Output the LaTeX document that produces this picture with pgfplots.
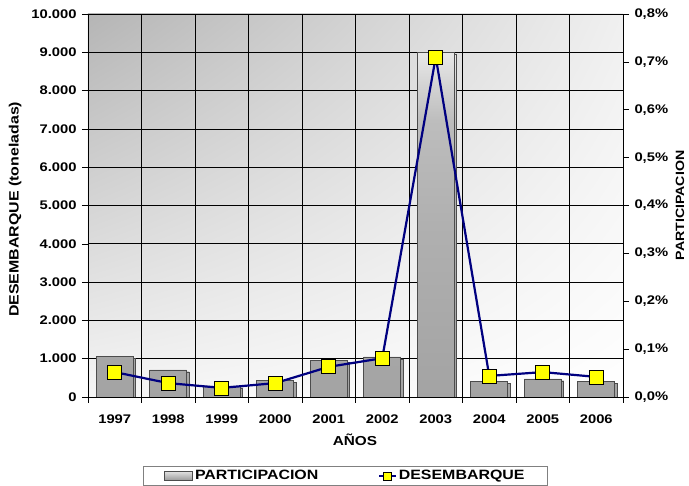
\documentclass[border=0pt]{standalone}
\usepackage{fontspec}
\setmainfont{Liberation Sans}
\newfontfamily\wide[FakeStretch=1.18]{Liberation Sans}
\usepackage{pgfplots}
\pgfplotsset{compat=1.18}
\usetikzlibrary{shadings}
\definecolor{navyline}{RGB}{0,0,128}
\definecolor{mkyellow}{RGB}{255,255,0}
\pgfdeclareverticalshading{barshade}{100bp}{color(0bp)=(black!36); color(25bp)=(black!36); color(50bp)=(black!31); color(65bp)=(black!26); color(75bp)=(black!9); color(100bp)=(black!9)}

\begin{document}
\begin{tikzpicture}
\begin{axis}[
  scale only axis, width=535pt, height=383pt,
  xmin=-0.5, xmax=9.5, ymin=0, ymax=10000,
  scaled y ticks=false,
  axis background/.style={upper left=black!29, upper right=black!6, lower left=black!4, lower right=white},
  axis line style={black, line width=0.6pt},
  xtick={0,1,2,3,4,5,6,7,8,9},
  xticklabels={1997,1998,1999,2000,2001,2002,2003,2004,2005,2006},
  major x tick style={draw=none},
  minor xtick={-0.5,0.5,1.5,2.5,3.5,4.5,5.5,6.5,7.5,8.5,9.5},
  minor tick length=6pt,
  major tick length=6pt,
  tick align=outside,
  xtick pos=bottom, ytick pos=left,
  xminorgrids=true, ymajorgrids=true,
  minor grid style={black, line width=0.6pt},
  major grid style={black, line width=0.6pt},
  tick style={black, line width=0.5pt},
  ytick={0,1000,2000,3000,4000,5000,6000,7000,8000,9000,10000},
  yticklabels={0,1.000,2.000,3.000,4.000,5.000,6.000,7.000,8.000,9.000,10.000},
  tick label style={font=\wide\bfseries\fontsize{12.5}{14}\selectfont},
  xticklabel style={yshift=-8pt},
  yticklabel style={xshift=-2pt},
  xlabel={AÑOS},
  ylabel={DESEMBARQUE (toneladas)},
  every axis x label/.style={at={(axis description cs:0.499,-0.1123)}, anchor=center, font=\wide\bfseries\fontsize{13}{15}\selectfont},
  every axis y label/.style={at={(axis description cs:-0.1364,0.49)}, anchor=center, rotate=90, font=\wide\bfseries\fontsize{13.5}{15}\selectfont},
]
\addplot[ybar, bar width=37pt, draw=black!70, line width=0.6pt,
  shading=barshade,
  preaction={fill=black, transform canvas={xshift=2.5pt, yshift=-2pt}}]
  coordinates {(0,1070) (1,705) (2,290) (3,440) (4,965) (5,1045) (6,9000) (7,415) (8,470) (9,415)};
\end{axis}

\begin{axis}[
  scale only axis, width=535pt, height=383pt,
  xmin=-0.5, xmax=9.5, ymin=0, ymax=0.8,
  scaled y ticks=false,
  axis x line=none, axis y line*=right,
  axis line style={black, line width=0.6pt},
  tick align=outside, major tick length=6pt,
  tick style={black, line width=0.5pt},
  ytick={0,0.1,0.2,0.3,0.4,0.5,0.6,0.7,0.8},
  yticklabels={{0,0\%},{0,1\%},{0,2\%},{0,3\%},{0,4\%},{0,5\%},{0,6\%},{0,7\%},{0,8\%}},
  tick label style={font=\wide\bfseries\fontsize{12.5}{14}\selectfont},
  yticklabel style={xshift=2pt},
  ylabel={PARTICIPACION},
  every axis y label/.style={at={(axis description cs:1.1065,0.5)}, anchor=center, rotate=90, font=\wide\bfseries\fontsize{12}{14}\selectfont},
  legend columns=2,
  legend style={at={(axis description cs:0.4813,-0.18)}, anchor=north,
    draw=black!50, line width=1pt, fill=white,
    font=\wide\bfseries\fontsize{13.5}{15}\selectfont,
    inner xsep=21pt, inner ysep=2pt,
    /tikz/every even column/.append style={column sep=58pt}},
  legend cell align=left,
]
\addlegendimage{legend image code/.code={\draw[draw=black!70, line width=0.6pt, top color=black!12, bottom color=black!40] (0pt,-4.5pt) rectangle (28pt,4.5pt);}}
\addlegendentry{PARTICIPACION}
\addplot[navyline, line width=2.2pt, mark=square*, mark size=7pt,
  mark options={fill=mkyellow, draw=black, line width=0.7pt},
  legend image code/.code={\draw[navyline, line width=1.5pt] (0pt,0pt) -- (17pt,0pt);
    \draw[black, fill=mkyellow, line width=0.6pt] (4.5pt,-4pt) rectangle (12.5pt,4pt);}]
  coordinates {(0,0.052) (1,0.029) (2,0.019) (3,0.029) (4,0.063) (5,0.081) (6,0.710) (7,0.044) (8,0.052) (9,0.042)};
\addlegendentry{DESEMBARQUE}
\end{axis}
\pgfresetboundingbox
\useasboundingbox (-88pt,-89pt) rectangle (601pt,397pt);
\end{tikzpicture}
\end{document}
